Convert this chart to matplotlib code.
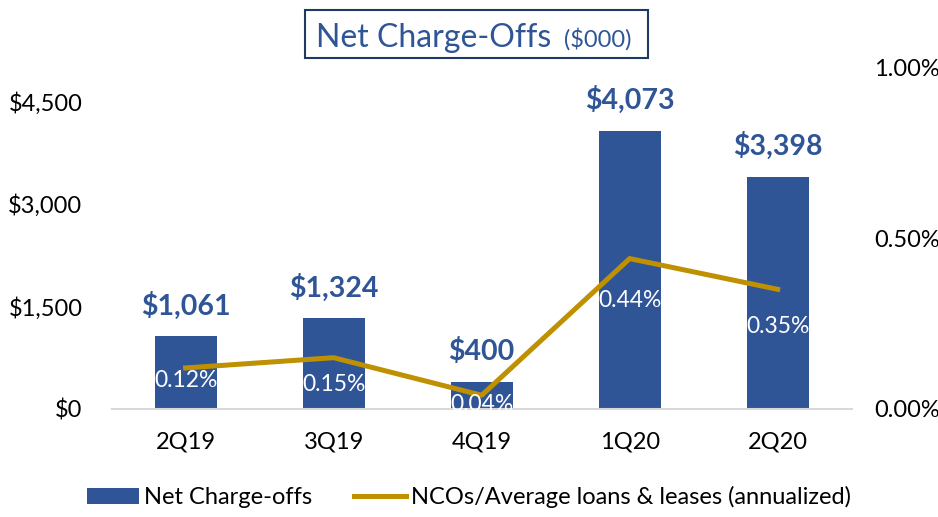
import numpy as np
import matplotlib
matplotlib.use("Agg")
from matplotlib import pyplot as plt
from matplotlib.patches import Rectangle, Patch
from matplotlib.lines import Line2D

quarters = ["2Q19", "3Q19", "4Q19", "1Q20", "2Q20"]
nco = [1061, 1324, 400, 4073, 3398]          # $000
nco_ratio = [0.12, 0.15, 0.04, 0.44, 0.35]   # percent, annualized
left_ticks = [0, 1500, 3000, 4500]
right_ticks = [0.0, 0.5, 1.0]

blue = "#2F5597"
gold = "#BF9000"
plt.rcParams['font.family'] = ['Lato', 'DejaVu Sans']

fig = plt.figure(figsize=(9.38, 5.17), dpi=100)
ax = fig.add_axes([0.119, 0.209, 0.789, 0.661])
x = np.arange(len(quarters))

ax.bar(x, nco, width=0.42, color=blue, zorder=2)
for xi, v in zip(x, nco):
    ax.annotate("${:,}".format(v), (xi, v), xytext=(0, 12), textcoords="offset points",
                ha="center", va="bottom", fontsize=20.5, fontweight="bold", color=blue)

ax.set_xlim(-0.5, 4.5)
ax.set_ylim(0, 5000)
ax.set_yticks(left_ticks)
ax.set_yticklabels(["${:,}".format(t) for t in left_ticks])
ax.set_xticks(x)
ax.set_xticklabels(quarters)
ax.tick_params(axis="y", length=0, labelsize=17, pad=21)
ax.tick_params(axis="x", length=0, labelsize=17, pad=16)
for s in ["top", "right", "left"]:
    ax.spines[s].set_visible(False)
ax.spines["bottom"].set_color("#D9D9D9")
ax.spines["bottom"].set_linewidth(1.5)

ax2 = ax.twinx()
ax2.plot(x, nco_ratio, color=gold, linewidth=3.6, zorder=3)
ax2.set_ylim(0, 1.0)
ax2.set_yticks(right_ticks)
ax2.set_yticklabels(["{:.2f}%".format(t) for t in right_ticks])
ax2.tick_params(length=0, labelsize=17, pad=16)
for s in ["top", "right", "left", "bottom"]:
    ax2.spines[s].set_visible(False)

label_dy = [-9, -19, -6.5, -30, -27]
for xi, r, dy in zip(x, nco_ratio, label_dy):
    ax2.annotate("{:.2f}%".format(r), (xi, r), xytext=(0, dy), textcoords="offset points",
                 ha="center", va="center", fontsize=16.5, color="white")

# title box
fig.add_artist(Rectangle((305 / 938, 1 - 58 / 517), 343 / 938, 48 / 517,
                         transform=fig.transFigure, fill=False,
                         edgecolor="#1F3864", linewidth=1.5))
fig.text(316 / 938, 1 - 47 / 517, "Net Charge-Offs", fontsize=23, color=blue,
         ha="left", va="baseline")
fig.text(564 / 938, 1 - 47 / 517, "($000)", fontsize=17, color=blue,
         ha="left", va="baseline")

handles = [Patch(facecolor=blue), Line2D([0], [0], color=gold, linewidth=3.6)]
fig.legend(handles, ["Net Charge-offs", "NCOs/Average loans & leases (annualized)"],
           loc="center", bbox_to_anchor=(0.5, 1 - 497 / 517), ncol=2, frameon=False,
           fontsize=17, handlelength=2.2, handletextpad=0.2, columnspacing=1.8)

fig.savefig("out.png", dpi=100)
